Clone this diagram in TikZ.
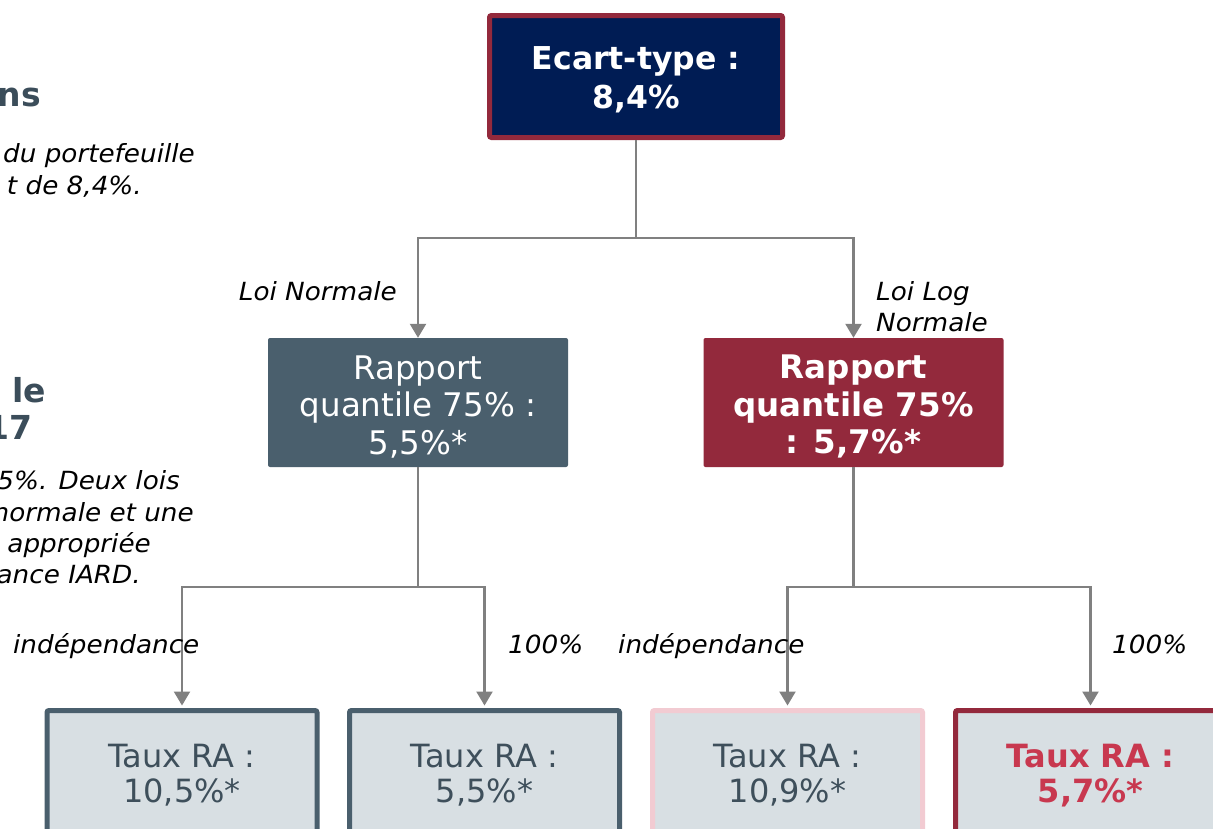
\documentclass[tikz,border=0pt]{standalone}
\usepackage{fontspec}
\setmainfont{DejaVu Sans}
\newfontfamily\labfont[FakeStretch=1.05]{DejaVu Sans}
\usetikzlibrary{arrows.meta}
\definecolor{navy}{HTML}{001C54}
\definecolor{crim}{HTML}{93293C}
\definecolor{slate}{HTML}{4A5F6D}
\definecolor{lightfill}{HTML}{D8DFE3}
\definecolor{pinkb}{HTML}{F2CBD2}
\definecolor{redtext}{HTML}{C8384F}
\definecolor{darktext}{HTML}{3E4F5B}
\definecolor{headtext}{HTML}{3B4D5A}
\definecolor{linegray}{HTML}{808080}
\newcommand{\upstrut}[1]{\rule{0pt}{#1}}
\begin{document}
\begin{tikzpicture}[x=1pt,y=-1pt,
  conn/.style={draw=linegray, line width=2.3pt, -{Triangle[width=16pt,length=14pt]}},
  plainline/.style={draw=linegray, line width=2.3pt},
  topbox/.style={fill=navy, draw=crim, line width=5pt, minimum width=293pt, minimum height=122pt,
    rounded corners=2pt, text=white, font=\fontsize{31.5}{39}\selectfont\bfseries, align=center, inner sep=0pt},
  midbox/.style={minimum width=300pt, minimum height=129pt, rounded corners=2pt, text=white,
    font=\fontsize{32.5}{37.5}\selectfont, align=center, inner sep=0pt},
  botbox/.style={fill=lightfill, line width=5pt, minimum width=270pt, minimum height=124pt,
    text=darktext, font=\fontsize{32}{35}\selectfont, align=center, rounded corners=2pt, inner sep=0pt},
  lab/.style={font=\labfont\itshape\fontsize{25}{31}\selectfont, inner sep=0pt, text=black},
  head/.style={font=\fontsize{33}{38}\selectfont\bfseries, inner sep=0pt, text=headtext},
]
\clip (0,0) rectangle (1213,828);
\fill[white] (0,0) rectangle (1213,828);

% left partial text
\node[head, anchor=base east] (h1) at (41,106) {ns};
\node[lab, anchor=base east] (t1) at (195,162) {du portefeuille};
\node[lab, anchor=base east] (t2) at (142,194) {t de 8,4\%.};
\node[head, anchor=base east] (h2) at (46,402) {s le};
\node[head, anchor=base east] (h3) at (33,439) {17};
\node[lab, anchor=base east] (t3) at (180,489) {5\%. Deux lois};
\node[lab, anchor=base east] (t4) at (194,521) {normale et une};
\node[lab, anchor=base east] (t5) at (151,552) {appropriée};
\node[lab, anchor=base east] (t6) at (141,583) {ance IARD.};

% boxes
\node[topbox] (top) at (636,76.5) {\upstrut{29.5pt}Ecart-type :\\8,4\%};
\node[midbox, fill=slate] (ml) at (418,402.5) {\upstrut{32pt}Rapport\\quantile 75\% :\\5,5\%*};
\node[midbox, fill=crim, font=\fontsize{32.5}{37.5}\selectfont\bfseries] (mr) at (853.5,402.5) {\upstrut{32pt}Rapport\\quantile 75\%\\: 5,7\%*};

\node[botbox, draw=slate] (b1) at (182,772.5) {\upstrut{29.5pt}Taux RA :\\10,5\%*};
\node[botbox, draw=slate] (b2) at (484.5,772.5) {\upstrut{29.5pt}Taux RA :\\5,5\%*};
\node[botbox, draw=pinkb] (b3) at (787.5,772.5) {\upstrut{29.5pt}Taux RA :\\10,9\%*};
\node[botbox, draw=crim, text=redtext, font=\fontsize{32}{35}\selectfont\bfseries] (b4) at (1090.5,772.5) {\upstrut{29.5pt}Taux RA :\\5,7\%*};

% connectors
\coordinate (j0) at (636,238);
\coordinate (jl) at (418,587);
\coordinate (jr) at (853.5,587);
\draw[plainline] (top.south) -- (j0);
\draw[conn] (j0) -| (ml.north);
\draw[conn] (j0) -| (mr.north);
\draw[plainline] (ml.south) -- (jl);
\draw[conn] (jl) -| ([yshift=2.5pt]b1.north);
\draw[conn] (jl) -| ([yshift=2.5pt]b2.north);
\draw[plainline] (mr.south) -- (jr);
\draw[conn] (jr) -| ([yshift=2.5pt]b3.north);
\draw[conn] (jr) -| ([yshift=2.5pt]b4.north);

% labels
\node[lab, anchor=base east] (l1) at (397,300) {Loi Normale};
\node[lab, anchor=north west, align=left] (l2) at (876,281) {Loi Log\\Normale};
\node[lab, anchor=base west] (l3) at (13,653) {indépendance};
\node[lab, anchor=base west] (l4) at (508,653) {100\%};
\node[lab, anchor=base west] (l5) at (618,653) {indépendance};
\node[lab, anchor=base west] (l6) at (1112,653) {100\%};
\end{tikzpicture}
\end{document}
